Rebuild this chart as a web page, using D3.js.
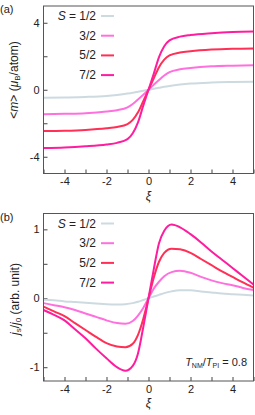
<!DOCTYPE html>
<html>
<head>
<meta charset="utf-8">
<script src="https://cdn.jsdelivr.net/npm/d3@7"></script>
<style>
body { margin: 0; background: #fff; }
svg { display: block; font-family: "Liberation Sans", Arial, sans-serif; }
</style>
</head>
<body>
<svg id="chart" width="255" height="415"></svg>
<script>
var FONT_SIZE = 11;

var spins = ['1/2', '3/2', '5/2', '7/2'];
var colors = ['#cddbe1', '#ff70de', '#ff2f55', '#ff1c9e'];

// panel (a): magnetisation
var xiA = [-5, -4, -3, -2, -1.5, -1, -0.75, -0.5, -0.25, 0, 0.25, 0.5, 0.75, 1, 1.5, 2, 3, 4, 5];
var mS1 = [-0.48, -0.46, -0.43, -0.37, -0.31, -0.23, -0.18, -0.12, -0.06, 0, 0.06, 0.12, 0.18, 0.23, 0.31, 0.37, 0.43, 0.46, 0.48];
var mS3 = [-1.47, -1.44, -1.4, -1.3, -1.22, -1.05, -0.85, -0.58, -0.3, 0, 0.3, 0.58, 0.85, 1.05, 1.22, 1.3, 1.4, 1.44, 1.47];
var mS5 = [-2.47, -2.45, -2.4, -2.3, -2.22, -2.05, -1.8, -1.35, -0.68, 0, 0.68, 1.35, 1.8, 2.05, 2.22, 2.3, 2.4, 2.45, 2.47];
var mS7 = [-3.48, -3.45, -3.38, -3.27, -3.17, -2.95, -2.6, -1.95, -0.95, 0, 0.95, 1.95, 2.6, 2.95, 3.17, 3.27, 3.38, 3.45, 3.48];

// panel (b): spin current
var xiB = [-5, -4.5, -4, -3.5, -3, -2.5, -2, -1.5, -1.1, -0.75, -0.5, -0.25, 0, 0.25, 0.5, 0.75, 1.1, 1.5, 2, 2.5, 3, 3.5, 4, 4.5, 5];
var jS1 = [-0.02, -0.03, -0.045, -0.055, -0.065, -0.075, -0.085, -0.09, -0.085, -0.07, -0.05, -0.025, 0, 0.025, 0.05, 0.075, 0.1, 0.115, 0.115, 0.1, 0.085, 0.07, 0.06, 0.05, 0.04];
var jS3 = [-0.07, -0.1, -0.13, -0.17, -0.22, -0.27, -0.32, -0.36, -0.37, -0.33, -0.25, -0.14, 0, 0.14, 0.24, 0.32, 0.38, 0.4, 0.37, 0.31, 0.26, 0.22, 0.19, 0.15, 0.12];
var jS5 = [-0.12, -0.19, -0.26, -0.36, -0.46, -0.56, -0.65, -0.7, -0.71, -0.66, -0.53, -0.3, 0, 0.3, 0.53, 0.66, 0.72, 0.71, 0.66, 0.57, 0.48, 0.39, 0.31, 0.23, 0.155];
var jS7 = [-0.17, -0.24, -0.32, -0.45, -0.58, -0.73, -0.87, -1.0, -1.05, -0.98, -0.8, -0.42, 0, 0.42, 0.8, 0.98, 1.07, 1.03, 0.93, 0.81, 0.68, 0.56, 0.44, 0.32, 0.2];

var xTicks = [-5, -4, -3, -2, -1, 0, 1, 2, 3, 4, 5];
var xLabels = [-4, -2, 0, 2, 4];
var yTicksA = [-4, -2, 0, 2, 4];
var yLabelsA = [-4, 0, 4];
var yTicksB = [-1, -0.5, 0, 0.5, 1];
var yLabelsB = [-1, 0, 1];

var svg = d3.select('#chart');

var panel = function (opt) {
	var g = svg.append('g');

	var x = d3.scaleLinear().domain([-5, 5]).range([43.5, 253.5]);
	var y = d3.scaleLinear().domain(opt.ydomain).range([opt.bottom, opt.top]);

	var fmt = function (list) {
		return function (d) { return list.indexOf(d) >= 0 ? d3.format('')(d).replace('−', '-') : ''; };
	};

	var xAxis = g.append('g')
		.attr('transform', 'translate(0,' + opt.bottom + ')')
		.call(d3.axisBottom(x).tickValues(xTicks).tickSize(-4).tickPadding(4).tickFormat(fmt(xLabels)));
	var yAxis = g.append('g')
		.attr('transform', 'translate(43.5,0)')
		.call(d3.axisLeft(y).tickValues(opt.yticks).tickSize(-4).tickPadding(4).tickFormat(fmt(opt.ylabels)));

	[xAxis, yAxis].forEach(function (a) {
		a.select('.domain').remove();
		a.selectAll('line').attr('stroke', '#444');
		a.selectAll('text').filter(function () { return this.textContent == ''; }).remove();
		a.selectAll('text').attr('font-size', FONT_SIZE + 'px').attr('fill', '#222')
			.attr('font-family', '"Liberation Sans", Arial, sans-serif');
	});

	var line = d3.line()
		.x(function (d) { return x(d[0]); })
		.y(function (d) { return y(d[1]); })
		.curve(d3.curveMonotoneX);

	opt.series.forEach(function (vals, i) {
		g.append('path')
			.datum(opt.xi.map(function (d, k) { return [d, vals[k]]; }))
			.attr('d', line)
			.attr('fill', 'none')
			.attr('stroke', colors[i])
			.attr('stroke-width', 2);
	});

	g.append('rect')
		.attr('x', 43.5).attr('y', opt.top)
		.attr('width', 210).attr('height', opt.bottom - opt.top)
		.attr('fill', 'none').attr('stroke', '#555').attr('stroke-width', 1);

	// legend
	spins.forEach(function (s, i) {
		var ly = opt.top + 10 + i * 19.7;
		var t = g.append('text')
			.attr('x', 96).attr('y', ly + 4)
			.attr('text-anchor', 'end')
			.attr('font-size', '12px').attr('fill', '#222');
		if (i == 0) {
			t.append('tspan').attr('font-style', 'italic').text('S');
			t.append('tspan').text(' = ' + s);
		} else t.text(s);
		g.append('line')
			.attr('x1', 101).attr('x2', 114)
			.attr('y1', ly).attr('y2', ly)
			.attr('stroke', colors[i]).attr('stroke-width', 2);
	});

	// x title
	g.append('text')
		.attr('x', x(0)).attr('y', opt.bottom + 26)
		.attr('text-anchor', 'middle')
		.attr('font-size', '12px').attr('font-style', 'italic').attr('fill', '#222')
		.text('ξ');

	// panel letter
	g.append('text')
		.attr('x', 0).attr('y', opt.top + 7)
		.attr('font-size', '11px').attr('fill', '#222')
		.text(opt.letter);

	return {g: g, x: x, y: y};
};

var a = panel({
	top: 6, bottom: 173.5, ydomain: [-5, 5], yticks: yTicksA, ylabels: yLabelsA,
	xi: xiA, series: [mS1, mS3, mS5, mS7], letter: '(a)'
});

var b = panel({
	top: 213.5, bottom: 381, ydomain: [-1.2, 1.23], yticks: yTicksB, ylabels: yLabelsB,
	xi: xiB, series: [jS1, jS3, jS5, jS7], letter: '(b)'
});

// y titles
var ta = a.g.append('text')
	.attr('transform', 'translate(18,' + 80 + ') rotate(-90)')
	.attr('text-anchor', 'middle')
	.attr('font-size', '12px').attr('fill', '#222');
ta.append('tspan').text('<');
ta.append('tspan').attr('font-style', 'italic').text('m');
ta.append('tspan').text('> (');
ta.append('tspan').attr('font-style', 'italic').text('μ');
ta.append('tspan').attr('font-size', '8px').attr('dy', 2).text('B');
ta.append('tspan').attr('dy', -2).text('/atom)');

var tb = b.g.append('text')
	.attr('transform', 'translate(19,' + 299 + ') rotate(-90)')
	.attr('text-anchor', 'middle')
	.attr('font-size', '12px').attr('fill', '#222');
tb.append('tspan').attr('font-style', 'italic').text('j');
tb.append('tspan').attr('font-size', '8px').attr('dy', 2).text('s');
tb.append('tspan').attr('dy', -2).text('/');
tb.append('tspan').attr('font-style', 'italic').text('j');
tb.append('tspan').attr('font-size', '8px').attr('dy', 2).text('0');
tb.append('tspan').attr('dy', -2).text(' (arb. unit)');

// temperature ratio note
var tn = b.g.append('text')
	.attr('x', 247).attr('y', 366)
	.attr('text-anchor', 'end')
	.attr('font-size', '11px').attr('fill', '#222');
tn.append('tspan').attr('font-style', 'italic').text('T');
tn.append('tspan').attr('font-size', '7px').attr('dy', 2).text('NM');
tn.append('tspan').attr('dy', -2).text('/');
tn.append('tspan').attr('font-style', 'italic').text('T');
tn.append('tspan').attr('font-size', '7px').attr('dy', 2).text('PI');
tn.append('tspan').attr('dy', -2).text(' = 0.8');
</script>
</body>
</html>
